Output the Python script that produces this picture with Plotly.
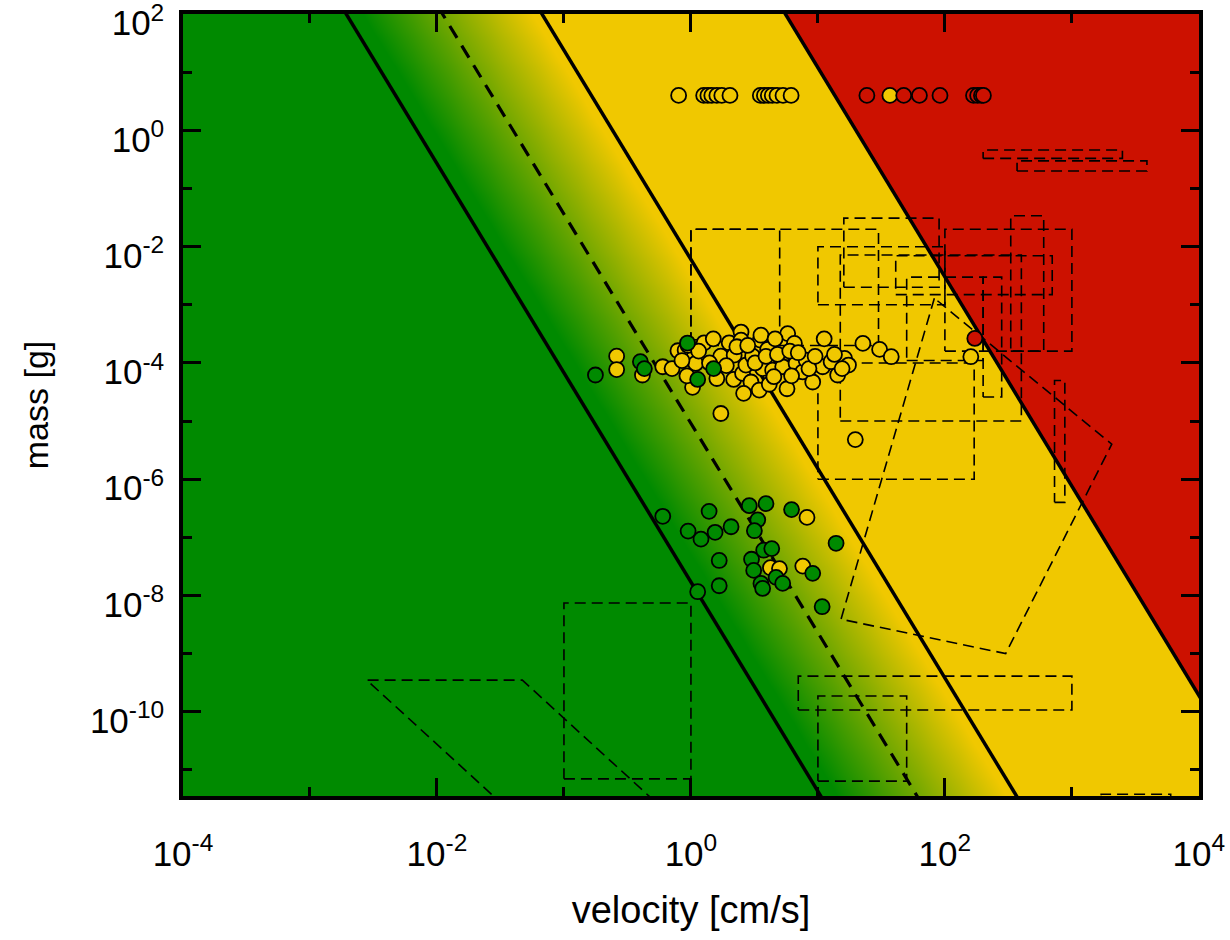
import numpy as np
import plotly.graph_objects as go

# ---------------- regime boundaries: log10(m) + K*log10(v) = const ----------------
K_SLOPE = 3.6
Z_STICK = -7.77      # left solid line
Z_MID = -5.04        # dashed line
Z_BOUNCE = -2.22     # middle solid line
Z_FRAG = 4.68        # right solid line (fragmentation)
Z_GRAD_START = -7.3  # green -> yellow gradient start
Z_GRAD_END = -2.5    # gradient end

GREEN = "#008a00"
YELLOW = "#f0c800"
RED = "#cc1100"

# ---------------- experimental points ----------------
top_row_mass = 4.0
top_yellow_v = [0.80, 1.26, 1.36, 1.46, 1.60, 1.75, 2.03, 3.52, 3.79, 4.07, 4.37, 4.76, 5.31, 6.15]
top_red_v = [24.3, 47.4, 63, 91.5, 168, 181, 194, 201]
top_yellow2_v = [36.9]

yellow_v = [0.26, 0.26, 0.415, 0.60, 0.71, 0.79, 0.90, 1.06, 1.09, 1.27, 1.03, 1.60, 1.72, 2.0,
            2.19, 2.17, 2.48, 2.48, 2.55, 2.71, 3.06, 2.97, 3.52, 3.56, 3.45, 3.67, 4.02, 4.14,
            4.40, 5.12, 5.28, 5.78, 5.71, 6.53, 6.73, 7.59, 8.07, 9.1, 11.2, 10.9, 12.7, 14.3,
            16.2, 17.4, 22.6, 30.6, 37.8, 1.72, 160, 19.7,
            0.85, 0.95, 1.15, 1.4, 1.5, 1.9, 2.3, 2.8, 3.2, 3.9, 4.6, 4.8, 6.0, 7.0, 8.5, 9.5,
            13.5, 15.5, 0.93, 2.6, 4.5, 6.2,
            8.2, 4.23, 4.98, 7.6]
yellow_m = [1.31e-4, 7.7e-5, 6.2e-5, 8.6e-5, 8.0e-5, 1.62e-4, 1.66e-4, 1.28e-4, 9.8e-5, 2.22e-4,
            3.8e-5, 5.4e-5, 1.31e-4, 2.22e-4, 1.36e-4, 5.2e-5, 3.4e-4, 2.47e-4, 6.6e-5, 9.2e-5,
            1.31e-4, 4.7e-5, 2.47e-4, 3.0e-4, 3.4e-5, 8.0e-5, 1.71e-4, 4.3e-5, 7.5e-5, 1.2e-4,
            8.6e-5, 3.2e-4, 3.6e-5, 2.17e-4, 9.8e-5, 7.0e-5, 1.12e-4, 4.7e-5, 2.6e-4, 8.6e-5,
            1.05e-4, 6.2e-5, 1.2e-4, 9.2e-5, 2.17e-4, 1.71e-4, 1.28e-4, 1.35e-5, 1.28e-4, 4.8e-6,
            1.1e-4, 2.0e-4, 1.6e-4, 1.0e-4, 2.6e-4, 9.0e-5, 1.9e-4, 2.0e-4, 1.0e-4, 1.3e-4,
            2.6e-4, 1.4e-4, 1.6e-4, 1.5e-4, 8.0e-5, 1.3e-4, 1.4e-4, 8.0e-5, 6.0e-5, 3.0e-5,
            5.8e-5, 6.0e-5,
            2.2e-7, 3.0e-8, 2.9e-8, 3.2e-8]

green_v = [0.177, 0.40, 0.43, 0.94, 1.13, 1.51,
           0.60, 1.39, 0.95, 1.20, 1.55, 2.07, 2.88, 3.90, 3.36, 3.16, 6.2, 13.9, 1.67, 1.67,
           1.13, 3.0, 3.12, 3.74, 4.33, 3.56, 3.67, 4.68, 5.28, 9.1, 10.8]
green_m = [6.2e-5, 1.05e-4, 8.0e-5, 2.2e-4, 5.2e-5, 8.0e-5,
           2.3e-7, 2.8e-7, 1.28e-7, 9.3e-8, 1.22e-7, 1.52e-7, 3.5e-7, 3.8e-7, 2.0e-7, 1.30e-7,
           3.0e-7, 7.9e-8, 4.0e-8, 1.47e-8, 1.16e-8, 4.2e-8, 2.7e-8, 6.0e-8, 6.4e-8, 1.61e-8,
           1.32e-8, 2.05e-8, 1.61e-8, 2.4e-8, 6.4e-9]

red_v = [172]
red_m = [2.64e-4]

# ---------------- experiment parameter ranges (dashed boxes) ----------------
box_v0 = [1, 1, 10, 16, 41, 50, 100, 330, 200, 15, 10, 730, 200, 370, 7, 10, 0.1, 1700]
box_v1 = [5, 30, 100, 90, 700, 200, 1000, 600, 280, 400, 170, 880, 2500, 3900, 1000, 50, 1, 6000]
box_m0 = [2.5e-4, 2.0e-4, 1.0e-3, 2.0e-3, 1.5e-3, 1.1e-4, 1.6e-4, 1.6e-4, 2.6e-5, 1.0e-5,
          1.0e-6, 4.0e-7, 0.33, 0.20, 1.07e-10, 6.4e-12, 7.0e-12, 1e-13]
box_m1 = [0.02, 0.02, 1.0e-2, 0.031, 7.0e-3, 3.0e-3, 0.02, 0.034, 3.0e-3, 7.2e-3,
          1.0e-4, 5.0e-5, 0.46, 0.30, 4.1e-10, 1.86e-10, 7.4e-9, 3.8e-12]

poly1_v = [82.6, 15.2, 301, 2060, 82.6]
poly1_m = [1.3e-3, 3.9e-9, 1.0e-9, 4.0e-6, 1.3e-3]
poly2_v = [0.166, 2.8e-3, 0.047, 2.78]
poly2_m = [1e-13, 3.5e-10, 3.5e-10, 1e-13]

# ---------------- axes ----------------
x_tick_vals = [1e-4, 1e-2, 1, 1e2, 1e4]
x_tick_text = ["10<sup>-4</sup>", "10<sup>-2</sup>", "10<sup>0</sup>", "10<sup>2</sup>", "10<sup>4</sup>"]
x_minor_vals = [1e-3, 1e-1, 10, 1e3]
y_tick_vals = [1e2, 1, 1e-2, 1e-4, 1e-6, 1e-8, 1e-10]
y_tick_text = ["10<sup>2</sup>", "10<sup>0</sup>", "10<sup>-2</sup>", "10<sup>-4</sup>",
               "10<sup>-6</sup>", "10<sup>-8</sup>", "10<sup>-10</sup>"]
y_minor_vals = [10, 0.1, 1e-3, 1e-5, 1e-7, 1e-9, 1e-11]

X_RANGE = [-4, 4.001]
Y_RANGE = [-11.45, 2.003]

fig = go.Figure()

# background regimes as a heatmap of the invariant z = log m + K log v
lv = np.arange(-4.6, 4.61, 0.1)
lm = np.arange(-12.2, 2.71, 0.1)
LV, LM = np.meshgrid(lv, lm)
Z = LM + K_SLOPE * LV
ZMIN, ZMAX = -32.0, 22.0
f = lambda z: (z - ZMIN) / (ZMAX - ZMIN)
cscale = [
    [0.0, GREEN],
    [f(Z_GRAD_START), GREEN],
    [f(Z_GRAD_END), YELLOW],
    [f(Z_FRAG), YELLOW],
    [f(Z_FRAG) + 1e-4, RED],
    [1.0, RED],
]
fig.add_trace(go.Heatmap(x=10 ** lv, y=10 ** lm, z=Z, zmin=ZMIN, zmax=ZMAX, colorscale=cscale,
                         showscale=False, zsmooth="best", hoverinfo="skip"))

# boundary lines
lv_line = np.array([-5.0, 5.0])
for zc, dash, w in [(Z_STICK, "solid", 3.5), (Z_BOUNCE, "solid", 3.5), (Z_FRAG, "solid", 3.5),
                    (Z_MID, "14px,9px", 3.2)]:
    fig.add_trace(go.Scatter(x=10 ** lv_line, y=10 ** (zc - K_SLOPE * lv_line), mode="lines",
                             line=dict(color="black", width=w, dash=dash), hoverinfo="skip",
                             showlegend=False))

# dashed boxes
bx, by = [], []
for v0, v1, m0, m1 in zip(box_v0, box_v1, box_m0, box_m1):
    bx += [v0, v1, v1, v0, v0, None]
    by += [m0, m0, m1, m1, m0, None]
bx += poly1_v + [None] + poly2_v
by += poly1_m + [None] + poly2_m
fig.add_trace(go.Scatter(x=bx, y=by, mode="lines", connectgaps=False,
                         line=dict(color="black", width=1.6, dash="11px,6px"),
                         hoverinfo="skip", showlegend=False))

# points
def add_pts(xs, ys, color):
    fig.add_trace(go.Scatter(x=xs, y=ys, mode="markers",
                             marker=dict(size=15, color=color, line=dict(color="black", width=1.8)),
                             showlegend=False))

add_pts(top_yellow_v, [top_row_mass] * len(top_yellow_v), YELLOW)
add_pts(top_red_v[:1], [top_row_mass], RED)
add_pts(top_yellow2_v, [top_row_mass], YELLOW)
add_pts(top_red_v[1:], [top_row_mass] * (len(top_red_v) - 1), RED)
add_pts(yellow_v, yellow_m, YELLOW)
add_pts(green_v, green_m, GREEN)
add_pts(red_v, red_m, RED)

font_family = "Liberation Sans, Arial, Helvetica, sans-serif"
axis_common = dict(type="log", showgrid=False, zeroline=False, showline=True, linewidth=3.5,
                   linecolor="black", mirror="allticks", ticks="inside", ticklen=18, tickwidth=2.5,
                   tickcolor="black", tickmode="array", layer="above traces",
                   ticklabeloverflow="allow", automargin=False,
                   tickfont=dict(size=35, family=font_family, color="black"))

fig.update_layout(
    width=1230, height=940,
    margin=dict(l=183, r=31, t=14, b=144),
    paper_bgcolor="white", plot_bgcolor="white",
    font=dict(family=font_family, color="black"),
    showlegend=False,
    xaxis=dict(**axis_common, range=X_RANGE, tickvals=x_tick_vals, ticktext=x_tick_text,
               ticklabelstandoff=24,
               minor=dict(tickmode="array", tickvals=x_minor_vals, ticks="inside", ticklen=9,
                          tickwidth=2.5, tickcolor="black"),
               title=dict(text="velocity [cm/s]", font=dict(size=38, family=font_family), standoff=26)),
    yaxis=dict(**axis_common, range=Y_RANGE, tickvals=y_tick_vals, ticktext=y_tick_text,
               ticklabelstandoff=8, ticklabelshift=9,
               minor=dict(tickmode="array", tickvals=y_minor_vals, ticks="inside", ticklen=9,
                          tickwidth=2.5, tickcolor="black"),
               title=dict(text="mass [g]", font=dict(size=34, family=font_family), standoff=32)),
)

fig.write_html("out.html")
